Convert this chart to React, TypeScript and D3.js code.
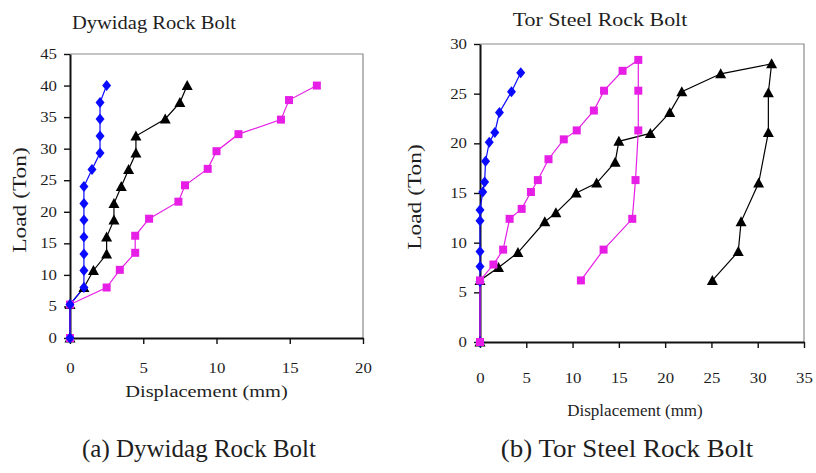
import React, { useEffect, useRef } from "react";
import * as d3 from "d3";

// Dywidag (a) — [displacement mm, load ton]
const dyBlue = [
  [0, 0], [0, 5.3], [0.95, 8], [0.95, 10.7], [0.95, 13.3], [0.95, 16], [0.95, 18.7],
  [0.95, 21.3], [0.95, 24], [1.5, 26.7], [2.05, 29.3], [2.05, 32], [2.05, 34.7],
  [2.05, 37.3], [2.5, 40],
];
const dyBlack = [
  [0, 0], [0, 5.3], [0.95, 8], [1.6, 10.7], [2.5, 13.3], [2.5, 16], [3.0, 18.7],
  [3.0, 21.3], [3.5, 24], [4.0, 26.7], [4.5, 29.3], [4.5, 32], [6.5, 34.7],
  [7.5, 37.3], [8.0, 40],
];
const dyPink = [
  [0, 0], [0, 5.3], [2.5, 8], [3.4, 10.8], [4.45, 13.5], [4.45, 16.2], [5.4, 18.9],
  [7.4, 21.6], [7.85, 24.2], [9.4, 26.8], [10.0, 29.6], [11.5, 32.3], [14.4, 34.6],
  [14.95, 37.7], [16.85, 40],
];

// Tor Steel (b)
const tsBlue = [
  [0, 0], [0, 6.1], [0, 7.6], [0, 9.1], [0, 12.2], [0, 13.3], [0.3, 15.1], [0.5, 16.1],
  [0.6, 18.2], [1.0, 20.1], [1.6, 21.1], [2.1, 23.1], [3.4, 25.2], [4.4, 27.1],
];
const tsPink = [
  [0, 0], [0, 6.2], [1.45, 7.8], [2.5, 9.3], [3.2, 12.4], [4.5, 13.4], [5.5, 15.1],
  [6.25, 16.3], [7.4, 18.4], [9.05, 20.4], [10.45, 21.3], [12.3, 23.3], [13.4, 25.3],
  [15.4, 27.3], [17.1, 28.4], [17.1, 25.3], [17.1, 21.3], [16.8, 16.3], [16.45, 12.4],
  [13.35, 9.3], [10.9, 6.2],
];
const tsBlack = [
  [0, 0], [0, 6.2], [2.0, 7.5], [4.1, 9.0], [7.0, 12.1], [8.2, 13.0], [10.4, 15.0],
  [12.6, 16.0], [14.6, 18.1], [15.0, 20.2], [18.4, 21.0], [20.5, 23.1], [21.8, 25.2],
  [26.0, 27.0], [31.5, 28.0], [31.15, 25.1], [31.15, 21.1], [30.1, 16.0], [28.2, 12.1],
  [27.9, 9.1], [25.1, 6.2],
];

const dyXTicks = [0, 5, 10, 15, 20];
const dyYTicks = [0, 5, 10, 15, 20, 25, 30, 35, 40, 45];
const tsXTicks = [0, 5, 10, 15, 20, 25, 30, 35];
const tsYTicks = [0, 5, 10, 15, 20, 25, 30];

const FONT = "'Liberation Serif', 'Times New Roman', serif";
const BLUE = "#0a0aff";
const PINK = "#e61ee6";
const INK = "#1e1e1e";

const markerPath = (kind: string) => {
  if (kind === "diamond") return "M0,-5.5L4.5,0L0,5.5L-4.5,0Z";
  if (kind === "square") return "M-4,-4L4,-4L4,4L-4,4Z";
  return "M0,-5.5L5.5,4.5L-5.5,4.5Z";
};

// text stretched horizontally like the scanned figure
function label(g: any, txt: string, x: number, y: number, size: number, sx: number, rotate = 0) {
  return g.append("text")
    .attr("transform", `translate(${x},${y}) rotate(${rotate}) scale(${sx},1)`)
    .attr("text-anchor", "middle")
    .style("font-family", FONT)
    .style("font-size", `${size}px`)
    .attr("fill", INK)
    .text(txt);
}

function drawPanel(g: any, opts: any) {
  const { left, right, top, bottom, xMax, yMax, xTicks, yTicks, series, title, titleX, titleY, titleSx,
    xLabelY, xLabelSx, yLabelX, xTickPad } = opts;
  const x = d3.scaleLinear().domain([0, xMax]).range([left, right]);
  const y = d3.scaleLinear().domain([0, yMax]).range([bottom, top]);

  // frame (top & right in gray)
  g.append("path")
    .attr("d", `M${left},${top}H${right}V${bottom}`)
    .attr("fill", "none")
    .attr("stroke", "#8a8a8a")
    .attr("stroke-width", 1.2);

  const xAxis = g.append("g")
    .attr("transform", `translate(0,${bottom})`)
    .call(d3.axisBottom(x).tickValues(xTicks).tickSize(6).tickSizeOuter(0).tickPadding(xTickPad));
  const yAxis = g.append("g")
    .attr("transform", `translate(${left},0)`)
    .call(d3.axisLeft(y).tickValues(yTicks).tickSize(6).tickSizeOuter(0));
  [xAxis, yAxis].forEach((a) => {
    a.select(".domain").attr("stroke", "#111").attr("stroke-width", 2);
    a.selectAll(".tick line").attr("stroke", "#111").attr("stroke-width", 1.4);
    a.selectAll(".tick text")
      .attr("fill", INK)
      .attr("transform", "scale(1.2,1)")
      .style("font-family", FONT)
      .style("font-size", "14px");
  });
  yAxis.selectAll(".tick text").attr("x", -13 / 1.2);

  const line = d3.line<number[]>().x((d) => x(d[0])).y((d) => y(d[1]));
  series.forEach((s: any) => {
    g.append("path")
      .datum(s.data)
      .attr("d", line)
      .attr("fill", "none")
      .attr("stroke", s.color)
      .attr("stroke-width", 1.2);
  });
  series.forEach((s: any) => {
    g.selectAll(null)
      .data(s.data)
      .enter()
      .append("path")
      .attr("d", markerPath(s.marker))
      .attr("transform", (d: number[]) => `translate(${x(d[0])},${y(d[1])})`)
      .attr("fill", s.color);
  });

  label(g, title, titleX, titleY, 18, titleSx);
  label(g, "Displacement (mm)", (left + right) / 2 + opts.xLabelDx, xLabelY, 17, xLabelSx);
  label(g, "Load (Ton)", yLabelX, (top + bottom) / 2 + 4, 18, 1.3, -90);
}

const App = () => {
  const ref = useRef<SVGSVGElement>(null);
  useEffect(() => {
    const svg = d3.select(ref.current);
    svg.selectAll("*").remove();
    svg.append("rect").attr("width", 816).attr("height", 473).attr("fill", "#fff");

    drawPanel(svg.append("g"), {
      left: 70, right: 363, top: 54, bottom: 338, xMax: 20, yMax: 45,
      xTicks: dyXTicks, yTicks: dyYTicks, xTickPad: 19,
      title: "Dywidag Rock Bolt", titleX: 154, titleY: 29, titleSx: 1.14,
      xLabelY: 397, xLabelSx: 1.2, xLabelDx: -10, yLabelX: 26,
      series: [
        { data: dyBlack, color: "#000", marker: "triangle" },
        { data: dyPink, color: PINK, marker: "square" },
        { data: dyBlue, color: BLUE, marker: "diamond" },
      ],
    });
    drawPanel(svg.append("g"), {
      left: 480, right: 804, top: 44, bottom: 342, xMax: 35, yMax: 30,
      xTicks: tsXTicks, yTicks: tsYTicks, xTickPad: 25,
      title: "Tor Steel Rock Bolt", titleX: 600, titleY: 26, titleSx: 1.22,
      xLabelY: 416, xLabelSx: 1.0, xLabelDx: -7, yLabelX: 421,
      series: [
        { data: tsBlack, color: "#000", marker: "triangle" },
        { data: tsBlue, color: BLUE, marker: "diamond" },
        { data: tsPink, color: PINK, marker: "square" },
      ],
    });

    const captions = [
      { text: "(a) Dywidag Rock Bolt", x: 199, sx: 1.0 },
      { text: "(b) Tor Steel Rock Bolt", x: 627, sx: 1.08 },
    ];
    captions.forEach((c) => label(svg, c.text, c.x, 457, 25, c.sx));
  }, []);

  return (
    <div style={{ position: "absolute", left: 0, top: 0 }}>
      <svg ref={ref} width={816} height={473} style={{ display: "block" }}></svg>
    </div>
  );
};

export default App;
